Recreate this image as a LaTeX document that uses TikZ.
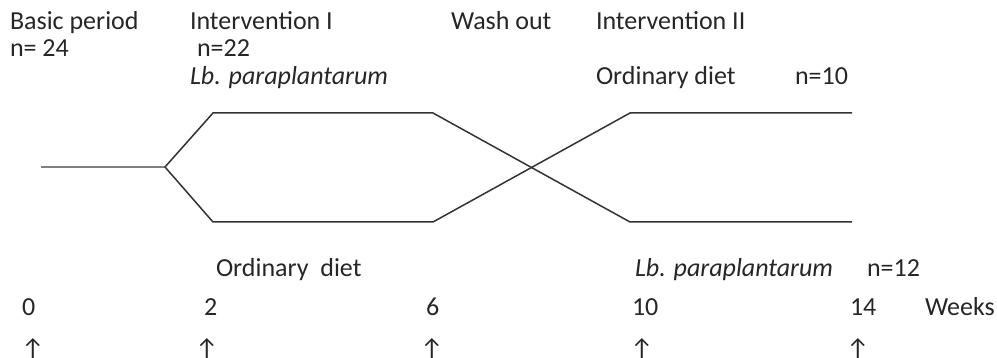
\documentclass[tikz,border=0pt]{standalone}
\usepackage{fontspec}
\setmainfont{Carlito}
\begin{document}
\begin{tikzpicture}[x=1pt,y=-1pt,
  lbl/.style={anchor=base west,inner sep=0pt,outer sep=0pt,text=black!85,font=\fontsize{26}{30}\selectfont},
  arr/.style={anchor=base,inner sep=0pt,outer sep=0pt,text=black!85,font=\fontsize{26}{30}\selectfont},
  path/.style={draw=black!80,line width=1.5pt,line join=miter},
  stem/.style={draw=black!50,line width=2pt}]
\useasboundingbox (0,0) rectangle (997,358);
% top labels
\node[lbl] (basic) at (10,30) {Basic period};
\node[lbl] (n24) at (10,57) {n= 24};
\node[lbl] (int1) at (190,30) {Intervention I};
\node[lbl] (n22) at (197,57) {n=22};
\node[lbl] (lb1) at (190,85) {\itshape Lb. paraplantarum};
\node[lbl] (wash) at (451,30) {Wash out};
\node[lbl] (int2) at (596,30) {Intervention II};
\node[lbl] (od1) at (596,85) {Ordinary diet};
\node[lbl] (n10) at (795,85) {n=10};
% bottom labels
\node[lbl] (od2) at (216,277) {Ordinary\ \ diet};
\node[lbl] (lb2) at (635,277) {\itshape Lb. paraplantarum};
\node[lbl] (n12) at (867,277) {n=12};
% weeks
\node[lbl] (w0) at (22,316) {0};
\node[lbl] (w2) at (204,316) {2};
\node[lbl] (w6) at (426,316) {6};
\node[lbl] (w10) at (632,316) {10};
\node[lbl] (w14) at (850,316) {14};
\node[lbl] (weeks) at (925,316) {Weeks};
% arrows
\node[arr] (a0) at (33,358) {↑};
\node[arr] (a2) at (207,358) {↑};
\node[arr] (a6) at (432,358) {↑};
\node[arr] (a10) at (642,358) {↑};
\node[arr] (a14) at (858,358) {↑};
% flow lines
\coordinate (s) at (41,167);
\coordinate (b) at (165,167);
\coordinate (t1) at (213,113);
\coordinate (t2) at (433,113);
\coordinate (t3) at (630,113);
\coordinate (t4) at (852,113);
\coordinate (u1) at (213,222);
\coordinate (u2) at (433,222);
\coordinate (u3) at (630,222);
\coordinate (u4) at (852,222);
\draw[stem] (s) -- (b);
\draw[path] (b) -- (t1) -- (t2) -- (u3) -- (u4);
\draw[path] (b) -- (u1) -- (u2) -- (t3) -- (t4);
\end{tikzpicture}
\end{document}
